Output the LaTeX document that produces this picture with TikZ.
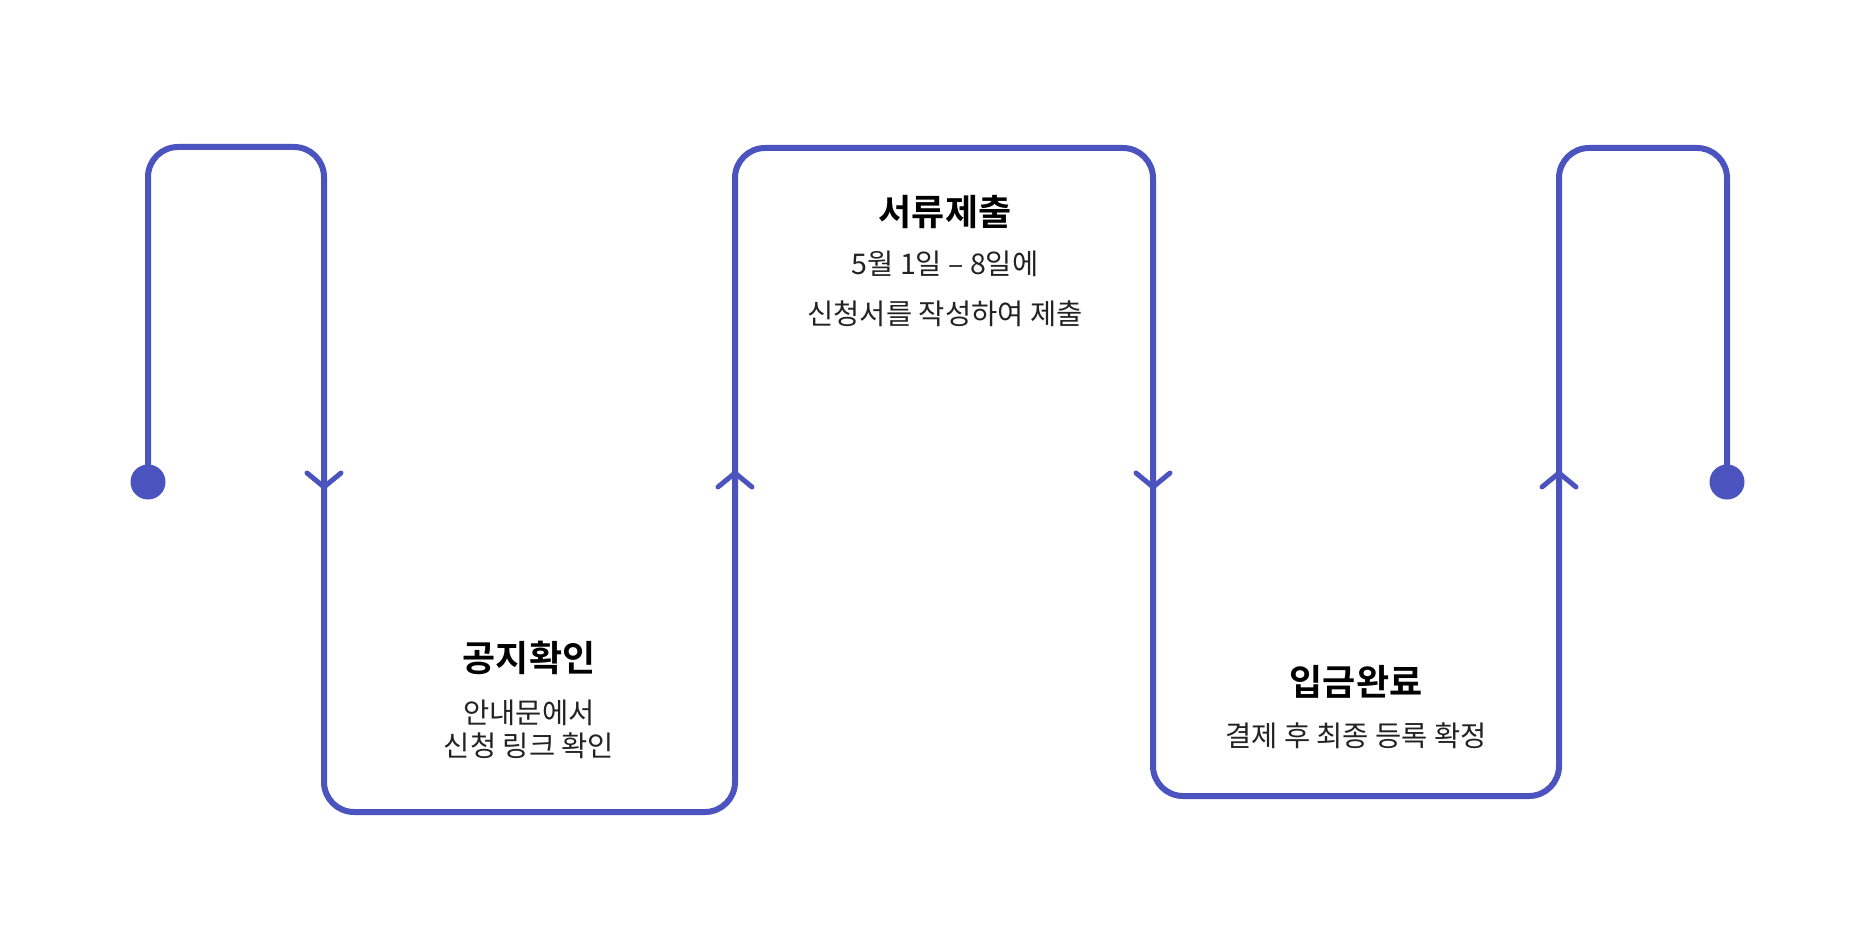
\documentclass[tikz,border=0pt]{standalone}
\usepackage{fontspec}
\usetikzlibrary{calc}
\setmainfont{Noto Sans CJK KR}[BoldFont={Noto Sans CJK KR Bold}]
\definecolor{flow}{RGB}{74,83,190}
\definecolor{subtxt}{RGB}{34,34,34}
\tikzset{
  flowline/.style={draw=flow, line width=6pt, rounded corners=30pt, line cap=round, line join=round},
  chevron/.style={draw=flow, line width=5pt, line cap=round, line join=round},
  enddot/.style={circle, fill=flow, minimum size=35pt, inner sep=0pt},
  title/.style={font=\fontsize{36}{42}\selectfont\bfseries, text=black, inner sep=0pt},
  sub/.style={font=\fontsize{28.5}{34}\selectfont, text=subtxt, inner sep=0pt, align=center},
}
\begin{document}
\begin{tikzpicture}[x=1pt,y=-1pt]
\useasboundingbox (0,0) rectangle (1875,952);
% end dots and corner coordinates
\node[enddot] (start) at (148,482) {};
\node[enddot] (end) at (1727,482) {};
\coordinate (c1) at (148,147);
\coordinate (c2) at (324,147);
\coordinate (c3) at (324,812);
\coordinate (c4) at (735,812);
\coordinate (c5) at (735,148);
\coordinate (c6) at (1153,148);
\coordinate (c7) at (1153,796);
\coordinate (c8) at (1559,796);
\coordinate (c9) at (1559,148);
\coordinate (c10) at (1727,148);
\draw[flowline] (start.center) -- (c1) -- (c2) -- (c3) -- (c4) -- (c5) -- (c6) -- (c7) -- (c8) -- (c9) -- (c10) -- (end.center);
% arrow chevrons
\coordinate (a1) at (324,487);
\coordinate (a2) at (735,473);
\coordinate (a3) at (1153,487);
\coordinate (a4) at (1559,473);
\draw[chevron] ($(a1)+(-17,-14)$) -- (a1) -- ($(a1)+(17,-14)$);
\draw[chevron] ($(a3)+(-17,-14)$) -- (a3) -- ($(a3)+(17,-14)$);
\draw[chevron] ($(a2)+(-17,14)$) -- (a2) -- ($(a2)+(17,14)$);
\draw[chevron] ($(a4)+(-17,14)$) -- (a4) -- ($(a4)+(17,14)$);
% texts
\node[title] (t1) at (529,658) {공지확인};
\node[sub] (s1a) at (529,713) {안내문에서};
\node[sub] (s1b) at (529,746) {신청 링크 확인};
\node[title] (t2) at (945,212) {서류제출};
\node[sub] (s2a) at (945,264) {5월 1일 – 8일에};
\node[sub] (s2b) at (945,314) {신청서를 작성하여 제출};
\node[title] (t3) at (1356,682) {입금완료};
\node[sub] (s3) at (1356,736) {결제 후 최종 등록 확정};
\end{tikzpicture}
\end{document}
